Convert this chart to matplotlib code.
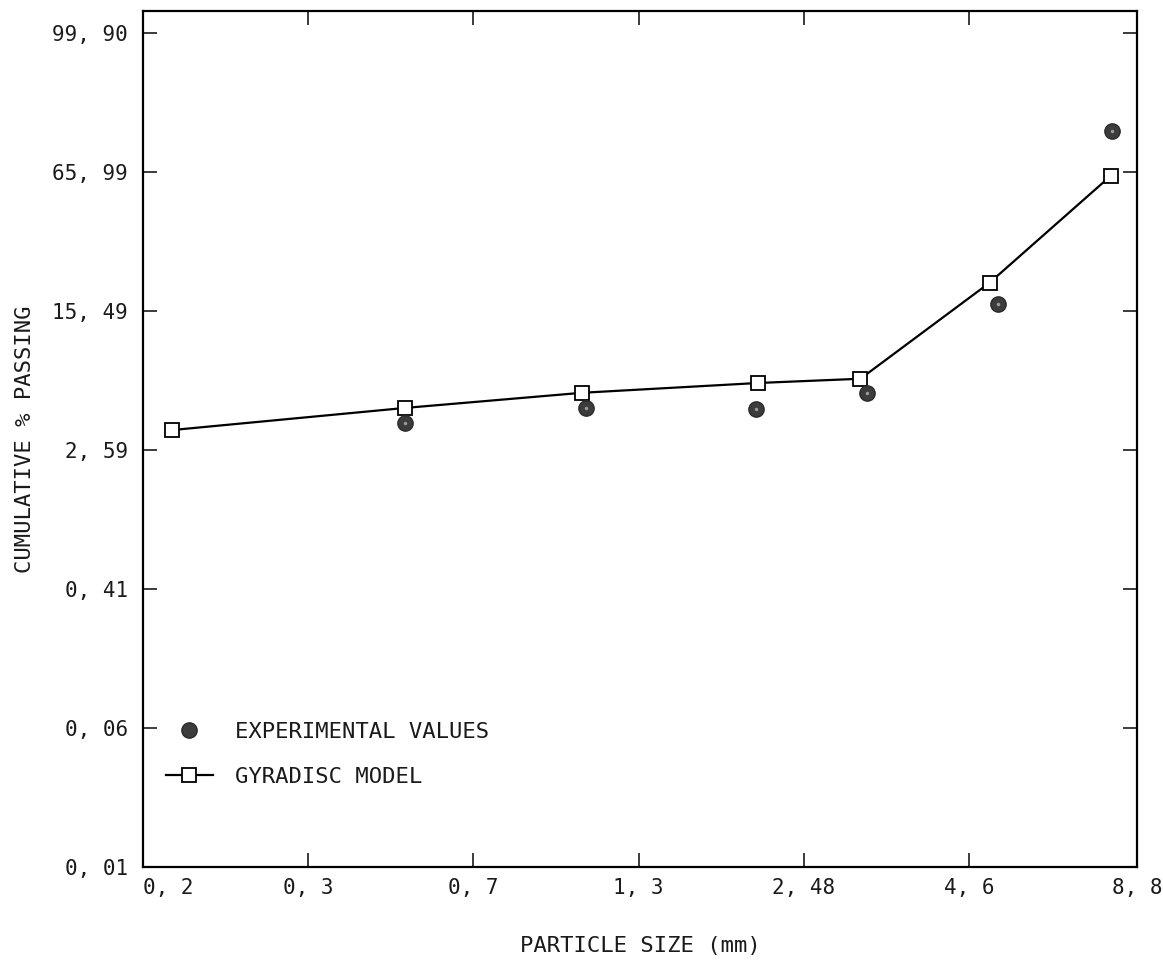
import numpy as np
import matplotlib.pyplot as plt
from matplotlib.lines import Line2D

# Particle size (mm) and cumulative % passing.
# x axis is logarithmic, y axis is a Rosin-Rammler scale.
model_size = [0.223, 0.542, 1.064, 2.08, 3.07, 5.02, 7.96]
model_pass = [3.36, 4.49, 5.47, 6.21, 6.56, 21.7, 63.9]

exp_size = [0.542, 1.08, 2.06, 3.15, 5.18, 8.0]
exp_pass = [3.67, 4.49, 4.40, 5.47, 16.9, 84.2]

x_ticks = [0.2, 0.375, 0.703, 1.319, 2.474, 4.64, 8.8]
x_labels = ['0, 2', '0, 3', '0, 7', '1, 3', '2, 48', '4, 6', '8, 8']
y_ticks = [0.01, 0.064, 0.41, 2.59, 15.49, 65.99, 99.90]
y_labels = ['0, 01', '0, 06', '0, 41', '2, 59', '15, 49', '65, 99', '99, 90']


# Rosin-Rammler transform: ln(-ln(1 - F))
def rr_fwd(f):
    f = np.clip(np.asarray(f, dtype=float), 1e-9, 99.99999)
    return np.log(-np.log(1 - f / 100.0))


def rr_inv(t):
    return 100.0 * (1 - np.exp(-np.exp(t)))


plt.rcParams['font.family'] = 'DejaVu Sans Mono'

fig = plt.figure(figsize=(11.63, 9.80), dpi=100)
ax = fig.add_axes([0.123, 0.1153, 0.8547, 0.8735])

ax.set_xscale('log')
ax.set_yscale('function', functions=(rr_fwd, rr_inv))

ax.plot(model_size, model_pass, '-', color='black', lw=1.6,
        marker='s', ms=9.5, mfc='white', mec='black', mew=1.3)
ax.plot(exp_size, exp_pass, 'o', ls='none', ms=11,
        mfc='#3c3c3c', mec='#2a2a2a', mew=1.0)
ax.plot(exp_size, exp_pass, 'o', ls='none', ms=2.5,
        mfc='#9a9a9a', mec='none')

ax.set_xlim(0.2, 8.8)
ax.set_ylim(0.01, 99.99)

ax.set_xticks(x_ticks)
ax.set_xticklabels(x_labels)
ax.xaxis.set_minor_locator(plt.NullLocator())
ax.set_yticks(y_ticks)
ax.set_yticklabels(y_labels)
ax.yaxis.set_minor_locator(plt.NullLocator())
ax.get_xticklabels()[0].set_horizontalalignment('left')

ax.tick_params(direction='in', length=10, width=1.2, top=True, right=True,
               labelsize=15, colors='#1a1a1a')
ax.tick_params(axis='x', pad=8)
ax.tick_params(axis='y', pad=11)
for s in ax.spines.values():
    s.set_linewidth(1.6)

ax.set_xlabel('PARTICLE SIZE (mm)', fontsize=16, labelpad=27, color='#1a1a1a')
ax.set_ylabel('CUMULATIVE % PASSING', fontsize=16, labelpad=12, color='#1a1a1a')

handles = [
    Line2D([], [], ls='none', marker='o', ms=11, mfc='#3c3c3c', mec='#2a2a2a'),
    Line2D([], [], color='black', lw=1.6, marker='s', ms=9.5,
           mfc='white', mec='black', mew=1.3),
]
ax.legend(handles, ['EXPERIMENTAL VALUES', 'GYRADISC MODEL'],
          loc='lower left', bbox_to_anchor=(0.003, 0.07), frameon=False,
          fontsize=16, handlelength=2.1, handletextpad=1.0, labelspacing=1.15,
          labelcolor='#1a1a1a')

fig.savefig('out.png', dpi=100, facecolor='white')
